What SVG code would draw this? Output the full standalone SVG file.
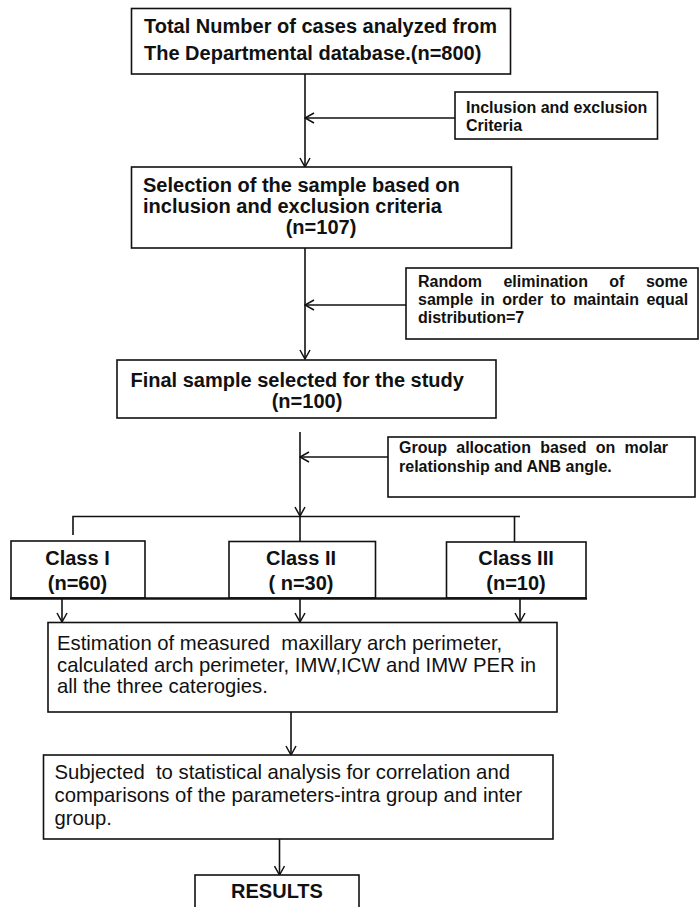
<svg xmlns="http://www.w3.org/2000/svg" width="700" height="907" viewBox="0 0 700 907">
<defs>
<style>
.box{fill:#fff;stroke:#111;stroke-width:1.6}
.ln{fill:none;stroke:#111;stroke-width:1.6}
.b{font-family:"Liberation Sans",Arial,sans-serif;font-weight:bold;font-size:20px;fill:#111}
.s{font-family:"Liberation Sans",Arial,sans-serif;font-weight:bold;font-size:16px;fill:#111}
.r{font-family:"Liberation Sans",Arial,sans-serif;font-size:20.3px;fill:#111}
.m{text-anchor:middle}
</style>
<marker id="arr" viewBox="0 0 12 12" refX="11" refY="6" markerWidth="12" markerHeight="12" orient="auto" markerUnits="userSpaceOnUse">
<path d="M2,1 L11,6 L2,11" fill="none" stroke="#111" stroke-width="1.5"/>
</marker>
</defs>
<rect width="700" height="907" fill="#fff"/>

<g id="connectors">
<line class="ln" x1="305" y1="74" x2="305" y2="167" marker-end="url(#arr)"/>
<line class="ln" x1="455" y1="118" x2="305" y2="118" marker-end="url(#arr)"/>
<line class="ln" x1="305" y1="248" x2="305" y2="359" marker-end="url(#arr)"/>
<line class="ln" x1="406" y1="305" x2="305" y2="305" marker-end="url(#arr)"/>
<line class="ln" x1="300" y1="432" x2="300" y2="516" marker-end="url(#arr)"/>
<line class="ln" x1="388" y1="457" x2="300" y2="457" marker-end="url(#arr)"/>
<polyline class="ln" points="73,535 73,516.5 520,516.5"/>
<line class="ln" x1="300" y1="516.5" x2="300" y2="541.5"/>
<line class="ln" x1="514.5" y1="516.5" x2="514.5" y2="542"/>
<line class="ln" x1="62" y1="599" x2="62" y2="622" marker-end="url(#arr)"/>
<line class="ln" x1="300" y1="599" x2="300" y2="622" marker-end="url(#arr)"/>
<line class="ln" x1="520" y1="599" x2="520" y2="622" marker-end="url(#arr)"/>
<line class="ln" x1="291" y1="712" x2="291" y2="755" marker-end="url(#arr)"/>
<line class="ln" x1="279.5" y1="839" x2="279.5" y2="875" marker-end="url(#arr)"/>
</g>

<g id="n1">
<rect class="box" x="131.5" y="8.5" width="379" height="65.5"/>
<text class="b" x="144" y="33">Total Number of cases analyzed from</text>
<text class="b" x="144" y="60">The Departmental database.(n=800)</text>
</g>

<g id="s1">
<rect class="box" x="455" y="92" width="202.5" height="47"/>
<text class="s" x="466" y="113">Inclusion and exclusion</text>
<text class="s" x="466" y="131">Criteria</text>
</g>

<g id="n2">
<rect class="box" x="131.5" y="167" width="380" height="81"/>
<text class="b" x="143" y="192">Selection of the sample based on</text>
<text class="b" x="143" y="213">inclusion and exclusion criteria</text>
<text class="b m" x="321" y="234">(n=107)</text>
</g>

<g id="s2">
<rect class="box" x="406" y="268" width="292" height="71"/>
<text class="s" x="418" y="287" style="word-spacing:17px">Random elimination of some</text>
<text class="s" x="418" y="305" style="word-spacing:3px">sample in order to maintain equal</text>
<text class="s" x="418" y="323">distribution=7</text>
</g>

<g id="n3">
<rect class="box" x="117" y="360" width="379" height="58"/>
<text class="b" x="130.5" y="387">Final sample selected for the study</text>
<text class="b m" x="307" y="408">(n=100)</text>
</g>

<g id="s3">
<rect class="box" x="388" y="437" width="307" height="60"/>
<text class="s" x="399" y="453" style="word-spacing:4.8px">Group allocation based on molar</text>
<text class="s" x="399" y="472">relationship and ANB angle.</text>
</g>

<g id="c1">
<rect class="box" x="11" y="541" width="134" height="57"/>
<text class="b m" x="77.5" y="565">Class I</text>
<text class="b m" x="77.5" y="590">(n=60)</text>
</g>

<g id="c2">
<rect class="box" x="229" y="541.5" width="146.5" height="56.5"/>
<text class="b m" x="301" y="565">Class II</text>
<text class="b m" x="301" y="590">( n=30)</text>
</g>

<g id="c3">
<rect class="box" x="446.5" y="542" width="139.5" height="56"/>
<text class="b m" x="516" y="565">Class III</text>
<text class="b m" x="516" y="590">(n=10)</text>
</g>
<line x1="10" y1="598.5" x2="587" y2="598.5" stroke="#111" stroke-width="2.6"/>

<g id="n4">
<rect class="box" x="48" y="622.5" width="509" height="89.5"/>
<text class="r" x="57" y="650" xml:space="preserve">Estimation of measured  maxillary arch perimeter,</text>
<text class="r" x="57" y="671.5">calculated arch perimeter, IMW,ICW and IMW PER in</text>
<text class="r" x="57" y="693">all the three caterogies.</text>
</g>

<g id="n5">
<rect class="box" x="43.5" y="755" width="509.5" height="84"/>
<text class="r" x="54.5" y="779" xml:space="preserve">Subjected  to statistical analysis for correlation and</text>
<text class="r" x="54.5" y="802">comparisons of the parameters-intra group and inter</text>
<text class="r" x="54.5" y="825">group.</text>
</g>

<g id="n6">
<rect class="box" x="195" y="875" width="164" height="45"/>
<text class="b m" x="277" y="898">RESULTS</text>
</g>
</svg>
